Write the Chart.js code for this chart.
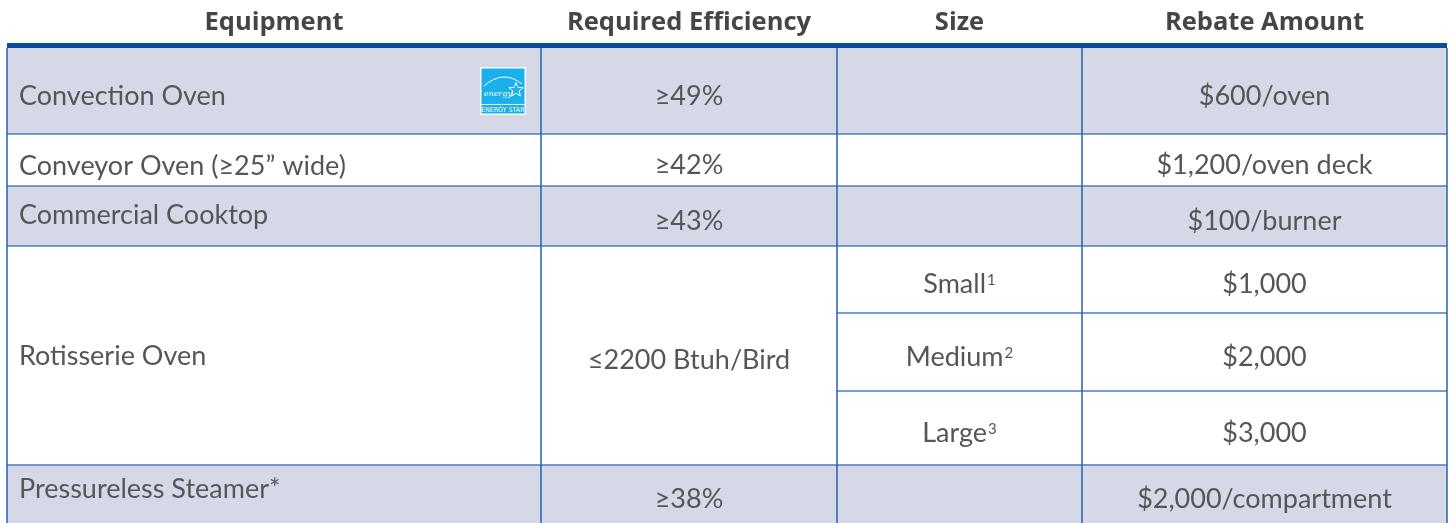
<!DOCTYPE html>
<html>
<head>
<meta charset="utf-8">
<script src="https://cdn.jsdelivr.net/npm/chart.js@4.4.0/dist/chart.umd.min.js"></script>
<style>
    html, body { margin: 0; padding: 0; background: #fff; }
</style>
</head>
<body>
<canvas id="rebateTable" width="1449" height="523"></canvas>
<script>
// Table contents
const headers = ['Equipment', 'Required Efficiency', 'Size', 'Rebate Amount'];
const equipment = ['Convection Oven', 'Conveyor Oven (≥25” wide)', 'Commercial Cooktop', 'Rotisserie Oven', 'Pressureless Steamer*'];
const efficiency = ['≥49%', '≥42%', '≥43%', '≤2200 Btuh/Bird', '≥38%'];
const sizes = [[''], [''], [''], ['Small', 'Medium', 'Large'], ['']];
const sizeNotes = [[''], [''], [''], ['1', '2', '3'], ['']];
const rebates = [['$600/oven'], ['$1,200/oven deck'], ['$100/burner'], ['$1,000', '$2,000', '$3,000'], ['$2,000/compartment']];
const energyStar = [true, false, false, false, false];

// Layout (scale units, x 0-1449 / y 0-523 from top)
const colEdges = [7, 541, 837, 1082, 1447];
const rowEdges = [48, 134, 186, 246, 465, 524];
const subRowEdges = { 3: [246, 313, 391, 465] };
const shadedRows = [true, false, true, false, true];
const equipNudge = [0, 1, -6, -4, -10];   // first column text sits a bit off-centre
const headerBar = [43, 48];

const textColor = '#55565a';
const headColor = '#454547';
const shade = '#d5d8e7';
const hLine = '#4a7cc0';
const vLine = '#2860ab';
const barColor = '#0a4b9b';
const bodyFont = '27px Lato, "Noto Sans", sans-serif';
const headFont = 'bold 25.5px "Open Sans", Lato, sans-serif';
const supFont = '15px Lato, "Noto Sans", sans-serif';

function drawEnergyStar(ctx, l, t, r, b) {
    ctx.save();
    ctx.fillStyle = '#ffffff';
    ctx.fillRect(l, t, r - l, b - t);
    ctx.fillStyle = '#19b0ec';
    ctx.fillRect(l + 1.5, t + 1.5, r - l - 3, b - t - 3);
    const band = t + (b - t) * 0.78;
    ctx.strokeStyle = '#ffffff';
    ctx.lineWidth = 1;
    ctx.beginPath();
    ctx.moveTo(l + 1.5, band);
    ctx.lineTo(r - 1.5, band);
    ctx.stroke();
    ctx.fillStyle = '#ffffff';
    ctx.font = '7px "Liberation Sans Narrow", "DejaVu Sans Condensed", sans-serif';
    ctx.textAlign = 'center';
    ctx.textBaseline = 'middle';
    ctx.fillText('ENERGY STAR', (l + r) / 2, (band + b) / 2 + 0.5);
    // arc
    ctx.beginPath();
    ctx.moveTo(l + 4, t + 19);
    ctx.quadraticCurveTo((l + r) / 2, t + 2, r - 4, t + 17);
    ctx.stroke();
    // script word
    ctx.font = 'italic 8px "DejaVu Serif", serif';
    ctx.textAlign = 'left';
    ctx.fillText('energy', l + 4, t + 27);
    // star outline
    const cx = r - 10, cy = t + 23, ro = 7.5, ri = 3.2;
    ctx.beginPath();
    for (let i = 0; i < 10; i++) {
        const rad = i % 2 === 0 ? ro : ri;
        const a = -Math.PI / 2 + i * Math.PI / 5;
        const px = cx + rad * Math.cos(a), py = cy + rad * Math.sin(a);
        if (i === 0) ctx.moveTo(px, py); else ctx.lineTo(px, py);
    }
    ctx.closePath();
    ctx.stroke();
    ctx.restore();
}

const tablePlugin = {
    id: 'tableCells',
    beforeDatasetsDraw(chart) {
        const ctx = chart.ctx;
        const xs = chart.scales.x, ys = chart.scales.y;
        const px = v => xs.getPixelForValue(v);
        const py = v => ys.getPixelForValue(v);
        const left = px(colEdges[0]), right = px(colEdges[colEdges.length - 1]);

        ctx.save();
        // shaded rows
        ctx.fillStyle = shade;
        equipment.forEach((_, r) => {
            if (shadedRows[r]) {
                ctx.fillRect(left, py(rowEdges[r]), right - left, py(rowEdges[r + 1]) - py(rowEdges[r]));
            }
        });

        // horizontal rules
        ctx.strokeStyle = hLine;
        ctx.lineWidth = 1.5;
        for (let i = 1; i < rowEdges.length - 1; i++) {
            ctx.beginPath();
            ctx.moveTo(left, py(rowEdges[i]));
            ctx.lineTo(right, py(rowEdges[i]));
            ctx.stroke();
        }
        Object.keys(subRowEdges).forEach(r => {
            const edges = subRowEdges[r];
            for (let i = 1; i < edges.length - 1; i++) {
                ctx.beginPath();
                ctx.moveTo(px(colEdges[2]), py(edges[i]));
                ctx.lineTo(right, py(edges[i]));
                ctx.stroke();
            }
        });

        // vertical rules
        ctx.strokeStyle = vLine;
        colEdges.forEach(c => {
            ctx.beginPath();
            ctx.moveTo(px(c), py(rowEdges[0]));
            ctx.lineTo(px(c), py(rowEdges[rowEdges.length - 1]));
            ctx.stroke();
        });

        // header bar
        ctx.fillStyle = barColor;
        ctx.fillRect(left, py(headerBar[0]), right - left, py(headerBar[1]) - py(headerBar[0]));

        // header text
        ctx.fillStyle = headColor;
        ctx.font = headFont;
        ctx.textAlign = 'center';
        ctx.textBaseline = 'alphabetic';
        headers.forEach((h, c) => {
            ctx.fillText(h, (px(colEdges[c]) + px(colEdges[c + 1])) / 2, py(29.5));
        });

        // body text
        ctx.fillStyle = textColor;
        const base = (top, bottom) => (py(top) + py(bottom)) / 2 + 13.5;
        const colMid = c => (px(colEdges[c]) + px(colEdges[c + 1])) / 2;
        equipment.forEach((name, r) => {
            const top = rowEdges[r], bottom = rowEdges[r + 1];
            ctx.font = bodyFont;
            ctx.textAlign = 'left';
            ctx.fillText(name, px(colEdges[0]) + 12, base(top, bottom) + equipNudge[r]);
            ctx.textAlign = 'center';
            ctx.fillText(efficiency[r], colMid(1), base(top, bottom));

            const edges = subRowEdges[r] || [top, bottom];
            sizes[r].forEach((s, k) => {
                const yb = base(edges[k], edges[k + 1]);
                if (s) {
                    ctx.font = bodyFont;
                    const w1 = ctx.measureText(s).width;
                    ctx.font = supFont;
                    const w2 = ctx.measureText(sizeNotes[r][k]).width + 1;
                    const x0 = colMid(2) - (w1 + w2) / 2;
                    ctx.textAlign = 'left';
                    ctx.font = bodyFont;
                    ctx.fillText(s, x0, yb);
                    ctx.font = supFont;
                    ctx.fillText(sizeNotes[r][k], x0 + w1 + 1, yb - 8);
                }
                ctx.font = bodyFont;
                ctx.textAlign = 'center';
                ctx.fillText(rebates[r][k], colMid(3), yb);
            });

            if (energyStar[r]) {
                const mid = (py(top) + py(bottom)) / 2;
                drawEnergyStar(ctx, px(colEdges[1]) - 61, mid - 24, px(colEdges[1]) - 15, mid + 24);
            }
        });
        ctx.restore();
    }
};

new Chart(document.getElementById('rebateTable').getContext('2d'), {
    type: 'scatter',
    data: { datasets: [{ data: [] }] },
    options: {
        responsive: false,
        animation: false,
        layout: { padding: 0 },
        scales: {
            x: { type: 'linear', min: 0, max: 1449, display: false },
            y: { type: 'linear', min: 0, max: 523, reverse: true, display: false }
        },
        plugins: {
            legend: { display: false },
            tooltip: { enabled: false }
        }
    },
    plugins: [tablePlugin]
});
</script>
</body>
</html>
